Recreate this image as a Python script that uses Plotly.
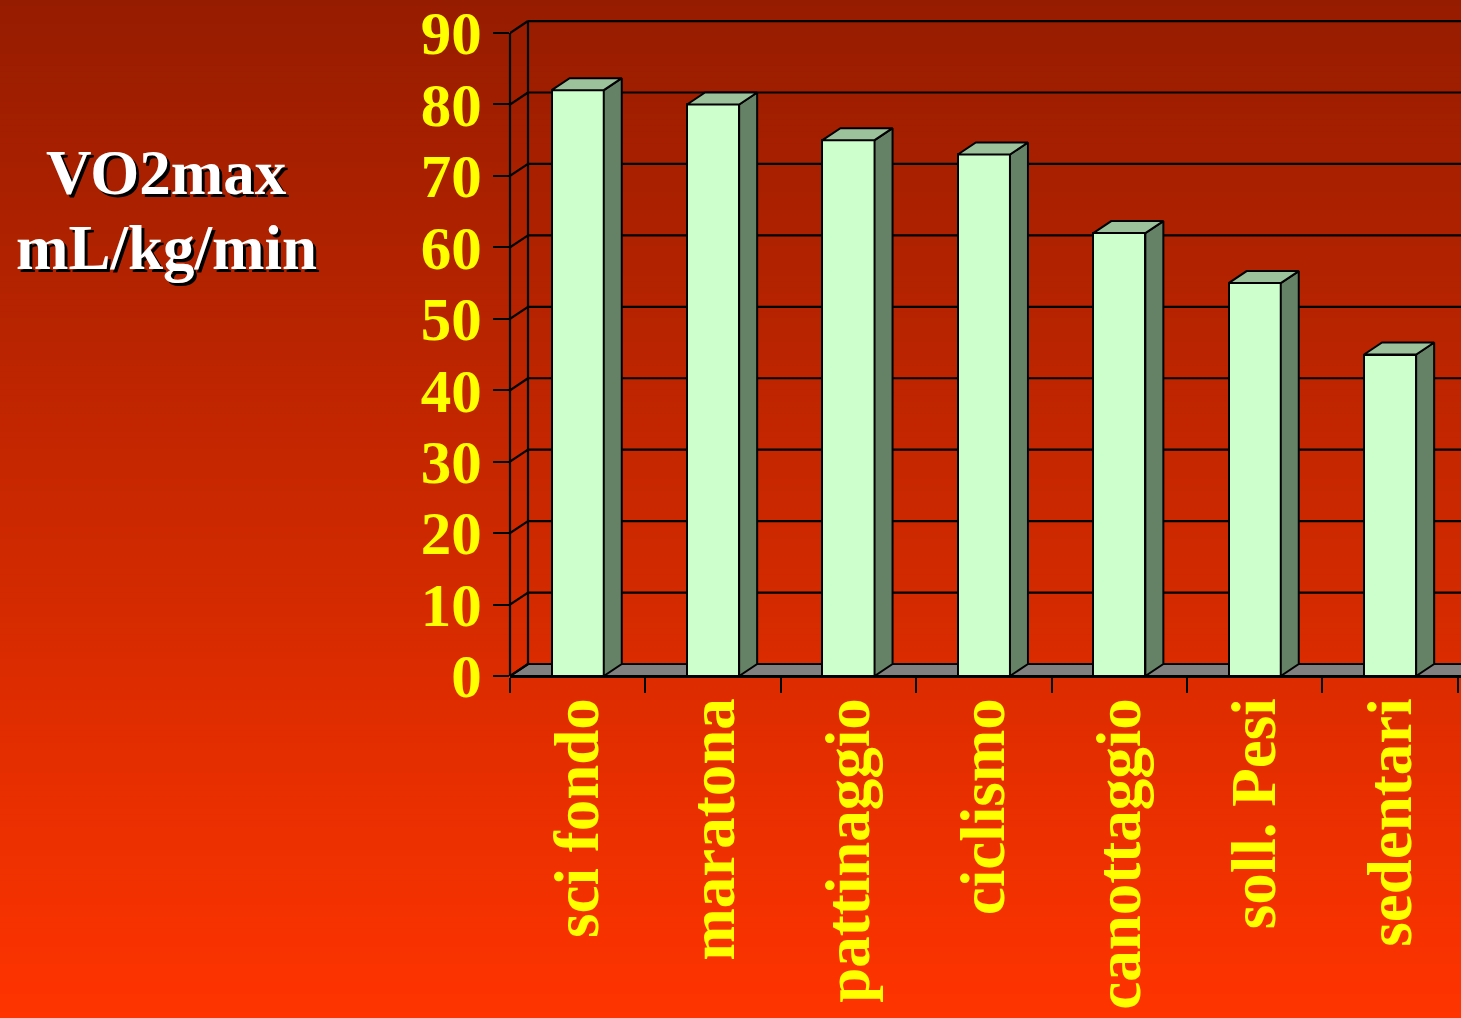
import plotly.graph_objects as go

# ---- data -------------------------------------------------------------
categories = ["sci fondo", "maratona", "pattinaggio", "ciclismo",
              "canottaggio", "soll. Pesi", "sedentari"]
vo2max = [82, 80, 75, 73, 62, 55, 45]
y_ticks = [0, 10, 20, 30, 40, 50, 60, 70, 80, 90]
title_lines = ["VO2max", "mL/kg/min"]

# ---- geometry / style ---------------------------------------------------
W, H = 1461, 1018
L, R, T, B = 510, 0, 10, 342
PW, PH = W - L - R, H - T - B
SLOT = 135.4            # pixels per category
PX_PER_UNIT = 7.144     # pixels per value unit
x_lo = -0.5
x_hi = x_lo + PW / SLOT
y_lo = 0.0
y_hi = PH / PX_PER_UNIT
DX = 18 / SLOT          # depth offset (x) in category units
DY = 12 / PX_PER_UNIT   # depth offset (y) in value units
BAR_W = 0.385

FRONT = "#CCFFCC"
TOP = "#9CC29C"
SIDE = "#668266"
FLOOR = "#808080"
YELLOW = "#FFFF00"
SERIF = "Liberation Serif"

shapes = []

# background: vertical gradient from dark red to orange-red
top_rgb = (150, 28, 0)
bot_rgb = (255, 52, 0)
N = 170
px_to_py = lambda p: (H - B - p) / PH
for k in range(N):
    t = (k + 0.5) / N
    c = tuple(round(a + (b - a) * t) for a, b in zip(top_rgb, bot_rgb))
    p0 = H * k / N
    p1 = H * (k + 1) / N + 1
    shapes.append(dict(type="rect", xref="paper", yref="paper", layer="below",
                       x0=-L / PW - 0.01, x1=1.01,
                       y0=px_to_py(p1), y1=px_to_py(p0),
                       fillcolor="rgb(%d,%d,%d)" % c, line=dict(width=0)))

line_k = dict(color="black", width=2.2)
far = x_hi + 1

# floor
shapes.append(dict(type="path", xref="x", yref="y", layer="below",
                   path=f"M {x_lo},0 L {x_lo + DX},{DY} L {far},{DY} L {far},0 Z",
                   fillcolor=FLOOR, line=line_k))
# back wall gridlines and wall edge
for v in y_ticks:
    shapes.append(dict(type="line", xref="x", yref="y", layer="below",
                       x0=x_lo + DX, x1=far, y0=v + DY, y1=v + DY, line=line_k))
    shapes.append(dict(type="line", xref="x", yref="y", layer="below",
                       x0=x_lo, x1=x_lo + DX, y0=v, y1=v + DY, line=line_k))
shapes.append(dict(type="line", xref="x", yref="y", layer="below",
                   x0=x_lo + DX, x1=x_lo + DX, y0=DY, y1=y_ticks[-1] + DY, line=line_k))
# front value axis line
shapes.append(dict(type="line", xref="paper", yref="paper", layer="above",
                   x0=0, x1=0, y0=0, y1=y_ticks[-1] / y_hi, line=line_k))

fig = go.Figure()

# front faces of the columns
xs = list(range(len(categories)))
fig.add_trace(go.Bar(x=xs, y=vo2max, width=BAR_W,
                     marker=dict(color=FRONT, line=dict(color="black", width=2)),
                     hoverinfo="skip", showlegend=False))

# side and top faces
sx, sy, tx, ty = [], [], [], []
for i, v in zip(xs, vo2max):
    l, r = i - BAR_W / 2, i + BAR_W / 2
    sx += [r, r + DX, r + DX, r, r, None]
    sy += [0, DY, v + DY, v, 0, None]
    tx += [l, l + DX, r + DX, r, l, None]
    ty += [v, v + DY, v + DY, v, v, None]
fig.add_trace(go.Scatter(x=sx, y=sy, mode="lines", fill="toself", fillcolor=SIDE,
                         line=dict(color="black", width=2), hoverinfo="skip",
                         showlegend=False))
fig.add_trace(go.Scatter(x=tx, y=ty, mode="lines", fill="toself", fillcolor=TOP,
                         line=dict(color="black", width=2), hoverinfo="skip",
                         showlegend=False))

# axis title, two lines with a drop shadow
annotations = []
for txt, py in zip(title_lines, [173, 248]):
    annotations.append(dict(
        text=txt, xref="paper", yref="paper", showarrow=False,
        x=(166 - L) / PW, y=px_to_py(py), xanchor="center", yanchor="middle",
        font=dict(family=SERIF, size=63, color="white", weight="bold",
                  shadow="3px 3px 0px #000000")))

fig.update_layout(
    width=W, height=H,
    margin=dict(l=L, r=R, t=T, b=B, pad=0),
    paper_bgcolor="#FF3300", plot_bgcolor="rgba(0,0,0,0)",
    shapes=shapes, annotations=annotations,
    bargap=0, showlegend=False,
    xaxis=dict(range=[x_lo, x_hi], tickvals=xs, ticktext=categories,
               ticks="", tickangle=-90, ticklabelstandoff=-5, automargin=False,
               tickfont=dict(family=SERIF, size=63, color=YELLOW, weight="bold"),
               minor=dict(tickvals=[x_lo + k for k in range(len(categories) + 1)],
                          ticks="outside", ticklen=15, tickwidth=2,
                          tickcolor="black", showgrid=False),
               showline=True, linecolor="black", linewidth=2,
               showgrid=False, zeroline=False, fixedrange=True),
    yaxis=dict(range=[y_lo, y_hi], tickvals=y_ticks, automargin=False,
               ticks="outside", ticklen=16, tickwidth=2, tickcolor="black",
               ticklabelstandoff=-1,
               tickfont=dict(family=SERIF, size=61, color=YELLOW, weight="bold"),
               showline=False, showgrid=False, zeroline=False, fixedrange=True),
)

fig.write_html("out.html")
